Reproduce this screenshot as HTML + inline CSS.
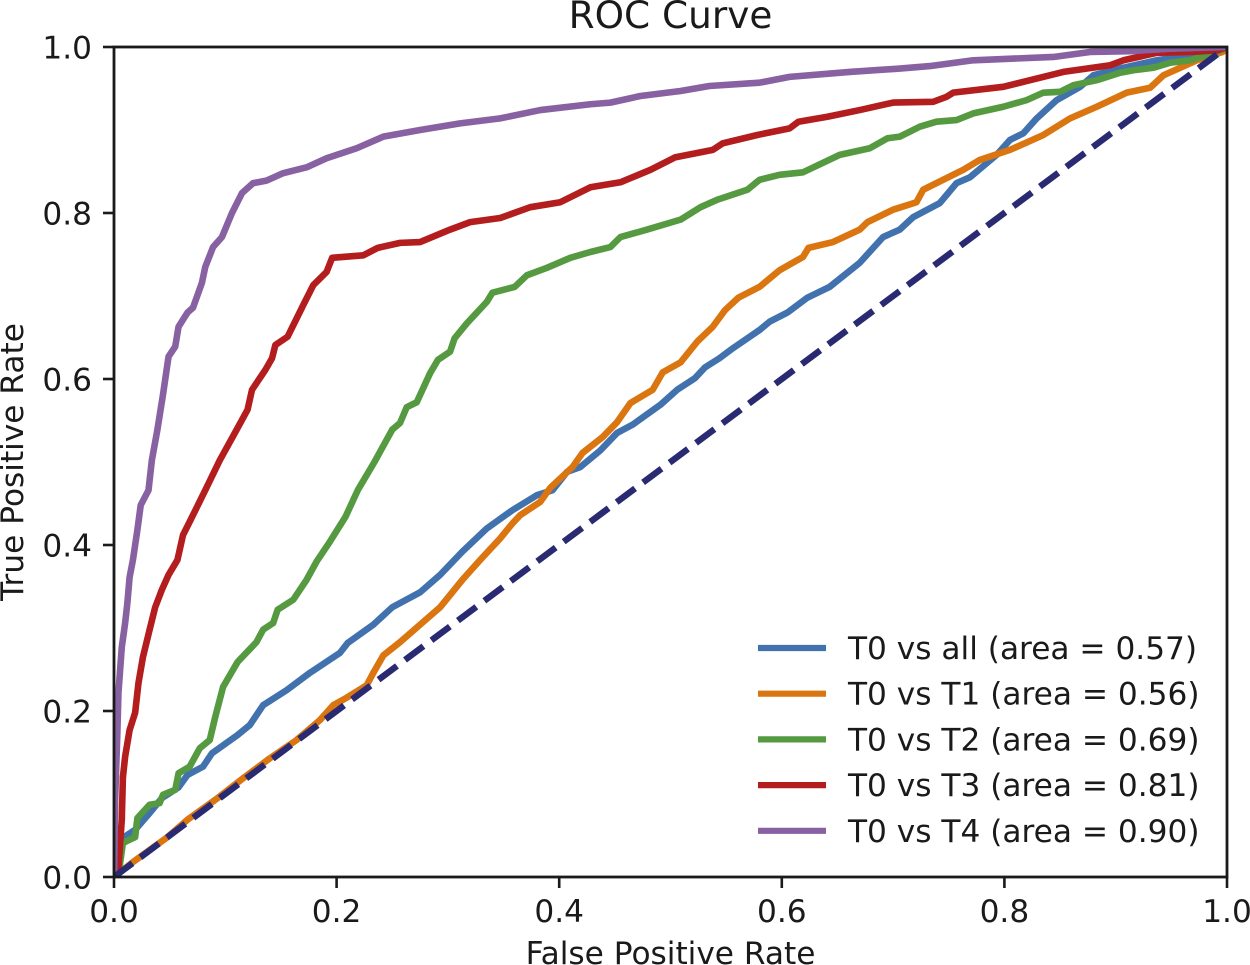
<!DOCTYPE html>
<html lang="en">
<head>
<meta charset="utf-8">
<title>ROC Curve</title>
<style>
html,body{margin:0;padding:0;background:#fff;width:1250px;height:965px;overflow:hidden}
svg{display:block}
text{font-family:"DejaVu Sans","Liberation Sans",sans-serif;fill:#1a1a1a}
</style>
</head>
<body>
<svg id="chart" width="1250" height="965" viewBox="0 0 1250 965" xmlns="http://www.w3.org/2000/svg">
  <defs>
    <clipPath id="plot-clip"><rect x="114" y="47" width="1113" height="830"/></clipPath>
  </defs>
  <rect width="1250" height="965" fill="#fff"/>
  <g id="series-layer" clip-path="url(#plot-clip)"></g>
  <g id="tick-layer"></g>
  <rect x="114" y="47" width="1113" height="830" fill="none" stroke="#1a1a1a" stroke-width="2.8"/>
  <g id="legend"></g>
  <text x="670.5" y="28" font-size="37.4" text-anchor="middle">ROC Curve</text>
  <text x="670.5" y="964" font-size="31.2" text-anchor="middle">False Positive Rate</text>
  <text transform="translate(23,462) rotate(-90)" font-size="31.2" text-anchor="middle">True Positive Rate</text>
</svg>
<script>
const tickValues = [0, 0.2, 0.4, 0.6, 0.8, 1];
const tickLabels = ["0.0", "0.2", "0.4", "0.6", "0.8", "1.0"];
const seriesNames = ["T0 vs all (area = 0.57)", "T0 vs T1 (area = 0.56)", "T0 vs T2 (area = 0.69)", "T0 vs T3 (area = 0.81)", "T0 vs T4 (area = 0.90)"];
const seriesColors = ["#4272ae", "#da7510", "#559a40", "#b41d1d", "#8861a2"];

const fprAll = [0,0,.008,.019,.032,.043,.058,.066,.080,.088,.111,.122,.134,.155,.176,.203,.210,.233,.250,.275,.293,.313,.335,.358,.380,.394,.407,.419,.437,.452,.466,.491,.506,.522,.531,.544,.556,.580,.589,.605,.623,.643,.670,.691,.706,.718,.742,.757,.769,.793,.805,.817,.829,.847,.868,.880,.907,.937,.967,.991,1];
const tprAll = [0,.039,.047,.057,.077,.095,.108,.123,.133,.149,.171,.183,.207,.225,.246,.270,.282,.304,.325,.343,.364,.392,.420,.442,.460,.466,.488,.494,.514,.535,.545,.569,.587,.601,.614,.625,.637,.659,.669,.680,.698,.711,.740,.771,.780,.795,.812,.836,.843,.870,.888,.896,.914,.936,.952,.966,.975,.984,.990,.994,1];

const fprT1 = [0,.017,.048,.066,.093,.116,.140,.164,.185,.197,.209,.227,.233,.242,.257,.275,.293,.313,.329,.347,.358,.365,.383,.392,.412,.421,.439,.452,.464,.484,.493,.509,.524,.538,.549,.561,.580,.598,.619,.624,.646,.670,.677,.700,.721,.727,.763,.778,.805,.835,.859,.883,.910,.931,.943,.973,.996,1];
const tprT1 = [0,.018,.048,.069,.095,.119,.143,.165,.189,.207,.216,.231,.246,.267,.283,.304,.325,.358,.382,.408,.426,.436,.452,.469,.494,.511,.530,.548,.571,.587,.608,.620,.645,.663,.683,.698,.711,.731,.747,.758,.765,.780,.789,.804,.813,.828,.852,.864,.876,.894,.914,.928,.945,.951,.966,.984,.994,1];

const fprT2 = [0,.005,.008,.019,.021,.032,.041,.044,.055,.058,.068,.077,.086,.091,.098,.111,.128,.134,.143,.147,.161,.173,.182,.194,.208,.219,.234,.250,.257,.263,.272,.284,.291,.302,.306,.317,.335,.340,.360,.371,.389,.410,.428,.446,.455,.479,.509,.527,.542,.569,.580,.598,.619,.652,.679,.695,.706,.715,.724,.739,.757,.772,.799,.820,.835,.850,.862,.883,.904,.916,.934,.949,.967,.991,1];
const tprT2 = [0,.012,.041,.048,.071,.087,.089,.099,.105,.125,.133,.155,.165,.193,.229,.259,.283,.298,.306,.322,.334,.358,.380,.404,.434,.466,.500,.539,.547,.566,.572,.607,.623,.633,.649,.667,.693,.704,.711,.725,.734,.746,.753,.759,.771,.780,.792,.807,.816,.828,.840,.846,.849,.870,.878,.890,.892,.898,.904,.910,.912,.920,.928,.936,.945,.946,.954,.960,.969,.972,.975,.981,.984,.994,1];

const fprT3 = [0,.004,.007,.008,.010,.014,.019,.022,.026,.032,.037,.043,.049,.057,.062,.068,.082,.095,.109,.120,.124,.136,.142,.145,.156,.170,.179,.191,.196,.224,.237,.257,.275,.302,.320,.347,.374,.401,.428,.455,.482,.504,.538,.547,.578,.607,.615,.641,.670,.700,.736,.748,.754,.799,.823,.853,.895,.907,.937,.967,.991,1];
const tprT3 = [0,.012,.069,.120,.145,.177,.198,.234,.265,.298,.325,.346,.364,.382,.412,.428,.466,.502,.536,.563,.587,.611,.625,.641,.651,.689,.713,.729,.746,.749,.758,.764,.765,.780,.789,.794,.807,.813,.831,.837,.852,.867,.876,.884,.894,.902,.910,.916,.924,.933,.934,.940,.945,.952,.960,.970,.978,.984,.993,.994,.996,1];

const fprT4 = [0,.001,.003,.004,.007,.010,.012,.014,.017,.021,.024,.031,.034,.039,.044,.049,.055,.058,.066,.071,.079,.082,.089,.097,.106,.115,.125,.137,.152,.173,.191,.218,.242,.275,.311,.347,.383,.428,.446,.473,.509,.535,.580,.607,.661,.706,.733,.772,.844,.877,.913,.949,1];
const tprT4 = [0,.092,.173,.222,.277,.306,.330,.361,.382,.418,.448,.466,.502,.539,.581,.627,.639,.663,.680,.686,.716,.735,.759,.771,.800,.824,.836,.839,.848,.855,.866,.878,.892,.900,.908,.914,.924,.931,.933,.941,.947,.953,.957,.964,.970,.974,.977,.984,.988,.994,.995,.998,1];

const chanceFpr = [0, 1];
const chanceTpr = [0, 1];

const fprSeries = [fprAll, fprT1, fprT2, fprT3, fprT4];
const tprSeries = [tprAll, tprT1, tprT2, tprT3, tprT4];

const SVG_NS = "http://www.w3.org/2000/svg";
function xScale(v) { return 114 + v * 1113; }
function yScale(v) { return 877 - v * 830; }
function svgEl(tag) { return document.createElementNS(SVG_NS, tag); }
function slug(s) { return s.split(" (")[0].toLowerCase().replace(/\s+/g, "-"); }
function linePoints(xs, ys) {
  return xs.map(function (x, i) { return xScale(x).toFixed(2) + "," + yScale(ys[i]).toFixed(2); }).join(" ");
}

const seriesLayer = document.getElementById("series-layer");
const tickLayer = document.getElementById("tick-layer");
const legend = document.getElementById("legend");

seriesNames.forEach(function (name, i) {
  const line = svgEl("polyline");
  
  
  line.setAttribute("points", linePoints(fprSeries[i], tprSeries[i]));
  line.setAttribute("fill", "none");
  line.setAttribute("stroke", seriesColors[i]);
  line.setAttribute("stroke-width", "6.6");
  line.setAttribute("stroke-linejoin", "round");
  seriesLayer.appendChild(line);
});

const chance = svgEl("polyline");


chance.setAttribute("points", linePoints(chanceFpr, chanceTpr));
chance.setAttribute("fill", "none");
chance.setAttribute("stroke", "#2a2a72");
chance.setAttribute("stroke-width", "6.4");
chance.setAttribute("stroke-dasharray", "23 10");
seriesLayer.appendChild(chance);

tickValues.forEach(function (v, i) {
  const xt = svgEl("line");
  
  
  xt.setAttribute("x1", xScale(v));
  xt.setAttribute("x2", xScale(v));
  xt.setAttribute("y1", 877);
  xt.setAttribute("y2", 888);
  xt.setAttribute("stroke", "#1a1a1a");
  xt.setAttribute("stroke-width", "2.6");
  tickLayer.appendChild(xt);

  const xl = svgEl("text");
  
  
  xl.setAttribute("x", xScale(v));
  xl.setAttribute("y", 922);
  xl.setAttribute("font-size", "31.2");
  xl.setAttribute("text-anchor", "middle");
  xl.textContent = tickLabels[i];
  tickLayer.appendChild(xl);

  const yt = svgEl("line");
  
  
  yt.setAttribute("x1", 103);
  yt.setAttribute("x2", 114);
  yt.setAttribute("y1", yScale(v));
  yt.setAttribute("y2", yScale(v));
  yt.setAttribute("stroke", "#1a1a1a");
  yt.setAttribute("stroke-width", "2.6");
  tickLayer.appendChild(yt);

  const yl = svgEl("text");
  
  
  yl.setAttribute("x", 92);
  yl.setAttribute("y", yScale(v) + 11.5);
  yl.setAttribute("font-size", "31.2");
  yl.setAttribute("text-anchor", "end");
  yl.textContent = tickLabels[i];
  tickLayer.appendChild(yl);
});

seriesNames.forEach(function (name, i) {
  const rowY = 648 + i * 45.7;
  const swatch = svgEl("line");
  
  
  swatch.setAttribute("x1", 758);
  swatch.setAttribute("x2", 826);
  swatch.setAttribute("y1", rowY);
  swatch.setAttribute("y2", rowY);
  swatch.setAttribute("stroke", seriesColors[i]);
  swatch.setAttribute("stroke-width", "6.2");
  legend.appendChild(swatch);

  const label = svgEl("text");
  
  
  label.setAttribute("x", 848);
  label.setAttribute("y", rowY + 11);
  label.setAttribute("font-size", "31.2");
  label.textContent = name;
  legend.appendChild(label);
});
</script>
</body>
</html>
